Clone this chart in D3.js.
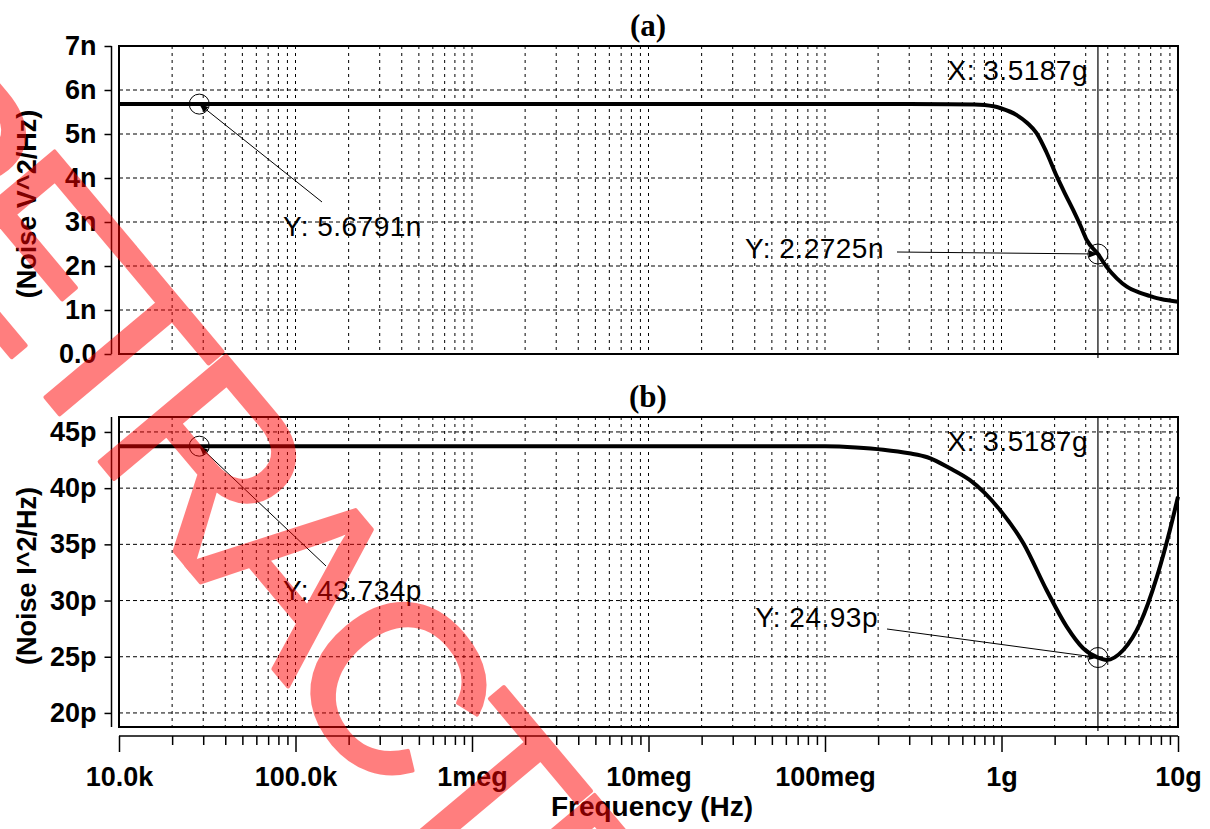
<!DOCTYPE html>
<html>
<head>
<meta charset="utf-8">
<script src="https://cdn.jsdelivr.net/npm/d3@7"></script>
<style>
  html, body { margin: 0; padding: 0; background: #fff; }
  svg { display: block; }
</style>
</head>
<body>
<svg id="chart" width="1210" height="829"></svg>
<script>
// ---- data ---------------------------------------------------------------
// (a) output voltage noise, in nV^2/Hz
const freqA  = [1e4, 1e5, 1e6, 1e7, 1e8, 3e8, 5e8, 7e8, 9e8, 1.0e9, 1.22e9, 1.4e9, 1.58e9,
                1.8e9, 2.06e9, 2.3e9, 2.55e9, 2.8e9, 3.04e9, 3.5187e9, 3.94e9, 4.5e9,
                5.13e9, 6.0e9, 6.93e9, 8.0e9, 1e10];
const noiseV = [5.6791, 5.6791, 5.6791, 5.6791, 5.6791, 5.6791, 5.6785, 5.67, 5.63, 5.58, 5.43, 5.25, 5.02,
                4.58, 4.03, 3.63, 3.27, 2.92, 2.59, 2.2725, 1.98, 1.72,
                1.53, 1.40, 1.32, 1.25, 1.19];

// (b) output current noise, in pA^2/Hz
const freqB  = [1e4, 1e5, 1e6, 1e7, 1e8, 1.5e8, 2.14e8, 3e8, 3.8e8, 5.1e8, 6.6e8, 8e8, 9.8e8,
                1.33e9, 1.8e9, 2.34e9, 2.9e9, 3.5187e9, 3.94e9, 4.9e9, 6.1e9, 7.6e9, 9.0e9, 1e10];
const noiseI = [43.734, 43.734, 43.734, 43.734, 43.72, 43.62, 43.42, 43.1, 42.75, 41.77, 40.73, 39.6, 38.06,
                35.1, 30.94, 27.68, 25.76, 24.93, 24.72, 25.6, 27.98, 32.13, 36.28, 39.24];

// axis ticks
const xTickValues  = [1e4, 1e5, 1e6, 1e7, 1e8, 1e9, 1e10];
const xTickLabels  = ["10.0k", "100.0k", "1meg", "10meg", "100meg", "1g", "10g"];
const yTicksA      = [0, 1, 2, 3, 4, 5, 6, 7];
const yTickLabelsA = ["0.0", "1n", "2n", "3n", "4n", "5n", "6n", "7n"];
const yTicksB      = [20, 25, 30, 35, 40, 45];
const yTickLabelsB = ["20p", "25p", "30p", "35p", "40p", "45p"];

// cursor and probe readouts
const cursorFreq   = 3.5187e9;
const cursorLabel  = "X: 3.5187g";
const probeFreq    = 2.85e4;
const probesA = [
  { f: probeFreq,  v: 5.6791, text: "Y: 5.6791n" },
  { f: cursorFreq, v: 2.2725, text: "Y: 2.2725n" }
];
const probesB = [
  { f: probeFreq,  v: 43.734, text: "Y: 43.734p" },
  { f: cursorFreq, v: 24.93,  text: "Y: 24.93p" }
];

// ---- layout -------------------------------------------------------------
const svg = d3.select("#chart");
const plotLeft = 119, plotRight = 1178;
const panels = [
  { key: "a", title: "(a)", top: 46, bottom: 354, domain: [0, 7],
    freq: freqA, vals: noiseV, ticks: yTicksA, tickLabels: yTickLabelsA,
    yTitle: "(Noise V^2/Hz)", probes: probesA, titleY: 36, cursorTextY: 80,
    labelPos: [ { x: 283, y: 236, anchor: "start", lx: 322, ly: 202 },
                { x: 884, y: 258, anchor: "end",   lx: 897, ly: 252 } ] },
  { key: "b", title: "(b)", top: 417, bottom: 727, domain: [18.75, 46.33],
    freq: freqB, vals: noiseI, ticks: yTicksB, tickLabels: yTickLabelsB,
    yTitle: "(Noise I^2/Hz)", probes: probesB, titleY: 407, cursorTextY: 451,
    labelPos: [ { x: 283, y: 600, anchor: "start", lx: 326, ly: 566 },
                { x: 878, y: 627, anchor: "end",   lx: 887, ly: 629 } ] }
];

const x = d3.scaleLog().domain([1e4, 1e10]).range([plotLeft, plotRight]);

const sans = "'Liberation Sans', Arial, Helvetica, sans-serif";
const serif = "'Liberation Serif', 'Times New Roman', serif";

// arrowhead for probe leaders
svg.append("defs").append("marker")
  .attr("id", "arrow")
  .attr("viewBox", "0 0 10 10")
  .attr("refX", 10).attr("refY", 5)
  .attr("markerWidth", 9).attr("markerHeight", 9)
  .attr("markerUnits", "userSpaceOnUse")
  .attr("orient", "auto")
  .append("path").attr("d", "M0,1 L10,5 L0,9 Z").attr("fill", "#000");

// minor + major decade positions for the vertical grid
const gridFreqs = [];
for (let e = 4; e < 10; e++) for (let m = 1; m < 10; m++) gridFreqs.push(m * Math.pow(10, e));
gridFreqs.push(1e10);

panels.forEach(p => {
  const y = d3.scaleLinear().domain(p.domain).range([p.bottom, p.top]);
  const g = svg.append("g").attr("class", "panel-" + p.key);

  // dotted vertical grid
  g.append("g").selectAll("line")
    .data(gridFreqs.filter(f => f > 1e4 && f < 1e10))
    .join("line")
    .attr("x1", d => x(d)).attr("x2", d => x(d))
    .attr("y1", p.top).attr("y2", p.bottom)
    .attr("stroke", "#000").attr("stroke-width", 1)
    .attr("stroke-dasharray", "3,4");

  // dashed horizontal grid
  g.append("g").selectAll("line")
    .data(p.ticks.filter(t => y(t) > p.top + 1 && y(t) < p.bottom - 1))
    .join("line")
    .attr("x1", plotLeft).attr("x2", plotRight)
    .attr("y1", d => y(d)).attr("y2", d => y(d))
    .attr("stroke", "#000").attr("stroke-width", 1)
    .attr("stroke-dasharray", "4,3");

  // plot frame
  g.append("rect")
    .attr("x", plotLeft).attr("y", p.top)
    .attr("width", plotRight - plotLeft).attr("height", p.bottom - p.top)
    .attr("fill", "none").attr("stroke", "#000").attr("stroke-width", 2);

  // y axis, offset to the left of the frame
  const yAxis = d3.axisLeft(y)
    .tickValues(p.ticks)
    .tickFormat((d, i) => p.tickLabels[i])
    .tickSize(7).tickPadding(8);
  const ya = g.append("g").attr("transform", `translate(${plotLeft - 7.5},0)`).call(yAxis);
  ya.select(".domain").attr("d", `M0,${p.top}V${p.bottom}`).attr("stroke-width", 1.5);
  ya.selectAll(".tick line").attr("stroke-width", 1.5);
  ya.selectAll(".tick text")
    .attr("font-family", sans).attr("font-size", 27).attr("font-weight", "bold")
    .attr("fill", "#000");

  // y axis title
  g.append("text")
    .attr("transform", `translate(36,${(p.top + p.bottom) / 2 + 4}) rotate(-90)`)
    .attr("text-anchor", "middle")
    .attr("font-family", sans).attr("font-size", 27).attr("font-weight", "bold")
    .text(p.yTitle);

  // panel title
  g.append("text")
    .attr("x", 648).attr("y", p.titleY)
    .attr("text-anchor", "middle")
    .attr("font-family", serif).attr("font-size", 31).attr("font-weight", "bold")
    .text(p.title);

  // trace
  const line = d3.line()
    .x((d, i) => x(p.freq[i]))
    .y(d => y(d))
    .curve(d3.curveMonotoneX);
  g.append("path")
    .attr("d", line(p.vals))
    .attr("fill", "none").attr("stroke", "#000")
    .attr("stroke-width", 4).attr("stroke-linejoin", "round");

  // cursor line
  g.append("line")
    .attr("x1", x(cursorFreq)).attr("x2", x(cursorFreq))
    .attr("y1", p.top).attr("y2", p.bottom + 4)
    .attr("stroke", "#000").attr("stroke-width", 1.2);
  g.append("text")
    .attr("x", 1088).attr("y", p.cursorTextY)
    .attr("text-anchor", "end")
    .attr("font-family", sans).attr("font-size", 28).attr("letter-spacing", 0.5)
    .text(cursorLabel);

  // probe markers with leaders and readouts
  p.probes.forEach((pr, i) => {
    const px = x(pr.f), py = y(pr.v), lp = p.labelPos[i];
    g.append("circle")
      .attr("cx", px).attr("cy", py).attr("r", 10)
      .attr("fill", "none").attr("stroke", "#000").attr("stroke-width", 1);
    g.append("line")
      .attr("x1", lp.lx).attr("y1", lp.ly).attr("x2", px).attr("y2", py)
      .attr("stroke", "#000").attr("stroke-width", 1)
      .attr("marker-end", "url(#arrow)");
    g.append("text")
      .attr("x", lp.x).attr("y", lp.y)
      .attr("text-anchor", lp.anchor)
      .attr("font-family", sans).attr("font-size", 28).attr("letter-spacing", 0.5)
      .text(pr.text);
  });
});

// shared frequency axis under panel (b)
const xAxis = d3.axisBottom(x)
  .tickValues(gridFreqs)
  .tickFormat(d => {
    const i = xTickValues.findIndex(v => Math.abs(v - d) / v < 1e-6);
    return i >= 0 ? xTickLabels[i] : "";
  })
  .tickSizeOuter(0);
const xa = svg.append("g").attr("transform", "translate(0,736)").call(xAxis);
xa.select(".domain").attr("d", `M${plotLeft},0H${plotRight}`).attr("stroke-width", 1.5);
xa.selectAll(".tick line")
  .attr("y2", d => xTickValues.some(v => Math.abs(v - d) / v < 1e-6) ? 16 : 9)
  .attr("stroke-width", 1.5);
xa.selectAll(".tick text")
  .attr("y", 50)
  .attr("dy", 0)
  .attr("font-family", sans).attr("font-size", 27).attr("font-weight", "bold")
  .attr("fill", "#000");

svg.append("text")
  .attr("x", 652).attr("y", 816)
  .attr("text-anchor", "middle")
  .attr("font-family", sans).attr("font-size", 28).attr("font-weight", "bold")
  .text("Frequency (Hz)");

// retraction stamp across the figure (semi-transparent red)
svg.append("g")
  .attr("opacity", 0.5)
  .append("text")
  .attr("transform", "translate(-183,125) rotate(50)")
  .attr("font-family", sans).attr("font-size", 240)
  .attr("letter-spacing", -20)
  .attr("fill", "#ff0000")
  .attr("stroke", "#ff0000").attr("stroke-width", 4).attr("stroke-linejoin", "round")
  .text("RETRACTED");
</script>
</body>
</html>
